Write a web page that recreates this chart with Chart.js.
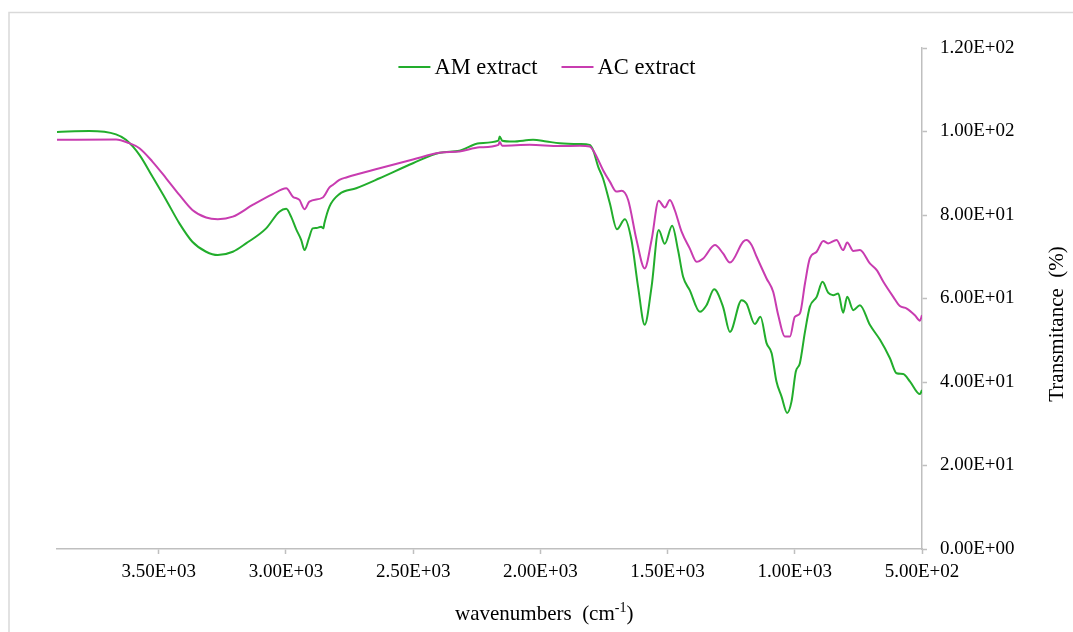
<!DOCTYPE html>
<html>
<head>
<meta charset="utf-8">
<script src="https://cdn.jsdelivr.net/npm/chart.js@4.4.1/dist/chart.umd.min.js"></script>
<style>
  html, body { margin: 0; padding: 0; background: #fff; }
  #wrap { width: 1073px; height: 632px; position: relative; }
</style>
</head>
<body>
<div id="wrap"><canvas id="ftir" width="1073" height="632"></canvas></div>
<script>
// AM extract (green) - wavenumber (cm-1) / transmitance (%)
const amWavenumbers = [3900, 3773, 3668, 3629, 3576, 3525, 3471, 3419, 3368, 3314, 3268, 3209, 3157, 3078, 3026, 2999, 2980, 2960, 2940, 2927, 2910, 2895, 2880, 2862, 2853, 2849, 2829, 2790, 2724, 2632, 2501, 2396, 2318, 2239, 2165, 2160, 2150, 2108, 2029, 1976, 1924, 1845, 1806, 1793, 1773, 1754, 1727, 1699, 1668, 1642, 1616, 1590, 1563, 1535, 1511, 1482, 1459, 1439, 1413, 1373, 1347, 1317, 1282, 1255, 1209, 1190, 1157, 1135, 1111, 1091, 1072, 1052, 1030, 1013, 996, 980, 960, 941, 914, 891, 869, 849, 829, 810, 794, 770, 744, 705, 665, 626, 600, 574, 547, 508, 500];
const amValues = [99.9, 100.1, 99.3, 98.0, 94.4, 89.2, 83.6, 78.0, 73.6, 71.2, 70.4, 71.2, 73.2, 76.8, 80.8, 81.5, 79.6, 76.6, 74.0, 71.6, 74.4, 76.8, 76.9, 77.2, 76.8, 78.0, 82.0, 85.0, 86.4, 88.8, 92.4, 94.9, 95.4, 97.2, 97.8, 98.8, 97.8, 97.6, 98.0, 97.6, 97.2, 97.0, 96.8, 95.6, 91.6, 88.8, 82.8, 76.6, 79.0, 74.0, 62.8, 53.7, 62.8, 76.4, 73.1, 77.4, 71.6, 65.2, 62.0, 56.8, 58.4, 62.2, 58.0, 52.0, 59.6, 58.8, 53.9, 55.6, 49.3, 46.9, 40.1, 36.5, 32.6, 35.3, 42.5, 44.5, 52.0, 58.0, 60.4, 64.0, 61.4, 60.8, 61.2, 56.6, 60.4, 57.2, 58.4, 53.7, 50.1, 45.7, 42.1, 41.9, 40.1, 37.1, 38.1];

// AC extract (magenta)
const acWavenumbers = [3900, 3668, 3616, 3576, 3525, 3471, 3419, 3368, 3314, 3268, 3209, 3131, 3052, 2999, 2973, 2947, 2927, 2908, 2855, 2829, 2816, 2790, 2763, 2632, 2501, 2396, 2318, 2239, 2165, 2160, 2150, 2042, 1924, 1845, 1806, 1786, 1754, 1727, 1701, 1681, 1655, 1622, 1590, 1563, 1535, 1511, 1491, 1472, 1445, 1413, 1386, 1360, 1314, 1282, 1255, 1203, 1190, 1170, 1150, 1111, 1085, 1065, 1039, 1019, 1000, 980, 960, 941, 914, 888, 869, 836, 810, 794, 770, 744, 705, 678, 652, 613, 587, 560, 528, 508, 500];
const acValues = [98.0, 98.1, 97.2, 96.0, 92.8, 88.8, 84.8, 81.2, 79.4, 79.0, 79.6, 82.4, 85.0, 86.4, 84.4, 83.6, 81.4, 83.2, 84.2, 86.6, 87.2, 88.4, 89.0, 91.2, 93.3, 94.9, 95.2, 96.2, 96.8, 97.5, 96.6, 96.8, 96.5, 96.6, 96.4, 94.8, 90.8, 88.0, 85.6, 85.8, 83.6, 74.0, 67.2, 74.0, 83.4, 81.8, 83.6, 81.2, 76.0, 72.0, 68.8, 69.6, 72.8, 70.8, 68.6, 73.6, 74.0, 72.8, 70.0, 64.8, 61.6, 56.0, 50.9, 50.9, 55.6, 56.4, 63.6, 69.6, 71.2, 73.8, 73.2, 74.0, 71.6, 73.4, 71.4, 71.6, 68.4, 66.8, 64.0, 60.4, 58.2, 57.6, 56.0, 54.7, 56.0];

const seriesNames = ['AM extract', 'AC extract'];
const xTickValues = [500, 1000, 1500, 2000, 2500, 3000, 3500];
const yTickValues = [0, 20, 40, 60, 80, 100, 120];

const FONT = "'Liberation Serif', 'Times New Roman', serif";

function sci(v) {
  if (v === 0) return '0.00E+00';
  const e = Math.floor(Math.log10(Math.abs(v)));
  const m = v / Math.pow(10, e);
  return m.toFixed(2) + 'E' + (e < 0 ? '-' : '+') + String(Math.abs(e)).padStart(2, '0');
}

function toPoints(xs, ys) {
  return xs.map((x, i) => ({ x: x, y: ys[i] }));
}

// legend, axis titles and the outer chart border, drawn Excel style
const decor = {
  id: 'decor',
  afterDraw(chart) {
    const ctx = chart.ctx;
    ctx.save();

    // chart area border (top + left only are visible)
    ctx.strokeStyle = '#d9d9d9';
    ctx.lineWidth = 1.5;
    ctx.beginPath();
    ctx.moveTo(9, 640);
    ctx.lineTo(9, 12.5);
    ctx.lineTo(1080, 12.5);
    ctx.stroke();

    // legend
    ctx.font = '22.5px ' + FONT;
    ctx.textBaseline = 'middle';
    ctx.fillStyle = '#000';
    const items = chart.data.datasets.map(ds => ({ label: ds.label, color: ds.borderColor, w: ctx.measureText(ds.label).width }));
    const lineLen = 32, gap = 4, itemGap = 24;
    let total = 0;
    items.forEach((it, i) => { total += lineLen + gap + it.w + (i ? itemGap : 0); });
    let x = 547 - total / 2;
    const ly = 67;
    items.forEach(it => {
      ctx.strokeStyle = it.color;
      ctx.lineWidth = 2;
      ctx.beginPath();
      ctx.moveTo(x, ly);
      ctx.lineTo(x + lineLen, ly);
      ctx.stroke();
      x += lineLen + gap;
      ctx.fillText(it.label, x, ly + 1);
      x += it.w + itemGap;
    });

    // x title with superscript
    ctx.font = '21px ' + FONT;
    ctx.textBaseline = 'alphabetic';
    let tx = 455;
    const base = 620;
    const part1 = 'wavenumbers  (cm';
    ctx.fillText(part1, tx, base);
    tx += ctx.measureText(part1).width;
    ctx.font = '14px ' + FONT;
    ctx.fillText('-1', tx, base - 8);
    tx += ctx.measureText('-1').width;
    ctx.font = '21px ' + FONT;
    ctx.fillText(')', tx, base);

    // y title, reads bottom to top
    ctx.translate(1057, 324);
    ctx.rotate(-Math.PI / 2);
    ctx.textAlign = 'center';
    ctx.textBaseline = 'middle';
    ctx.fillText('Transmitance  (%)', 0, 0);

    ctx.restore();
  }
};

new Chart(document.getElementById('ftir'), {
  type: 'line',
  data: {
    datasets: [
      {
        label: seriesNames[0],
        data: toPoints(amWavenumbers, amValues),
        borderColor: '#22ad2c',
        backgroundColor: '#22ad2c',
        borderWidth: 2,
        pointRadius: 0,
        cubicInterpolationMode: 'monotone',
        order: 1
      },
      {
        label: seriesNames[1],
        data: toPoints(acWavenumbers, acValues),
        borderColor: '#c83cb0',
        backgroundColor: '#c83cb0',
        borderWidth: 2,
        pointRadius: 0,
        cubicInterpolationMode: 'monotone',
        order: 0
      }
    ]
  },
  options: {
    responsive: false,
    devicePixelRatio: 1,
    animation: false,
    layout: { padding: { left: 57, right: 0, top: 48, bottom: 50 } },
    plugins: {
      legend: { display: false },
      tooltip: { enabled: false }
    },
    scales: {
      x: {
        type: 'linear',
        reverse: true,
        min: 500,
        max: 3900,
        afterBuildTicks(scale) { scale.ticks = xTickValues.map(v => ({ value: v })); },
        afterFit(scale) { scale.height = 33; },
        border: { color: '#bfbfbf', width: 1.5 },
        grid: { drawOnChartArea: false, color: '#bfbfbf', tickLength: 5, tickWidth: 1.5 },
        ticks: {
          padding: 7,
          maxRotation: 0,
          color: '#000',
          font: { family: FONT, size: 19 },
          callback: v => sci(v)
        }
      },
      y: {
        position: 'right',
        min: 0,
        max: 120,
        afterBuildTicks(scale) { scale.ticks = yTickValues.map(v => ({ value: v })); },
        afterFit(scale) { scale.width = 151; },
        border: { color: '#bfbfbf', width: 1.5 },
        grid: { drawOnChartArea: false, color: '#bfbfbf', tickLength: 5, tickWidth: 1.5 },
        ticks: {
          padding: 13,
          color: '#000',
          font: { family: FONT, size: 19 },
          callback: v => sci(v)
        }
      }
    }
  },
  plugins: [decor]
});
</script>
</body>
</html>
